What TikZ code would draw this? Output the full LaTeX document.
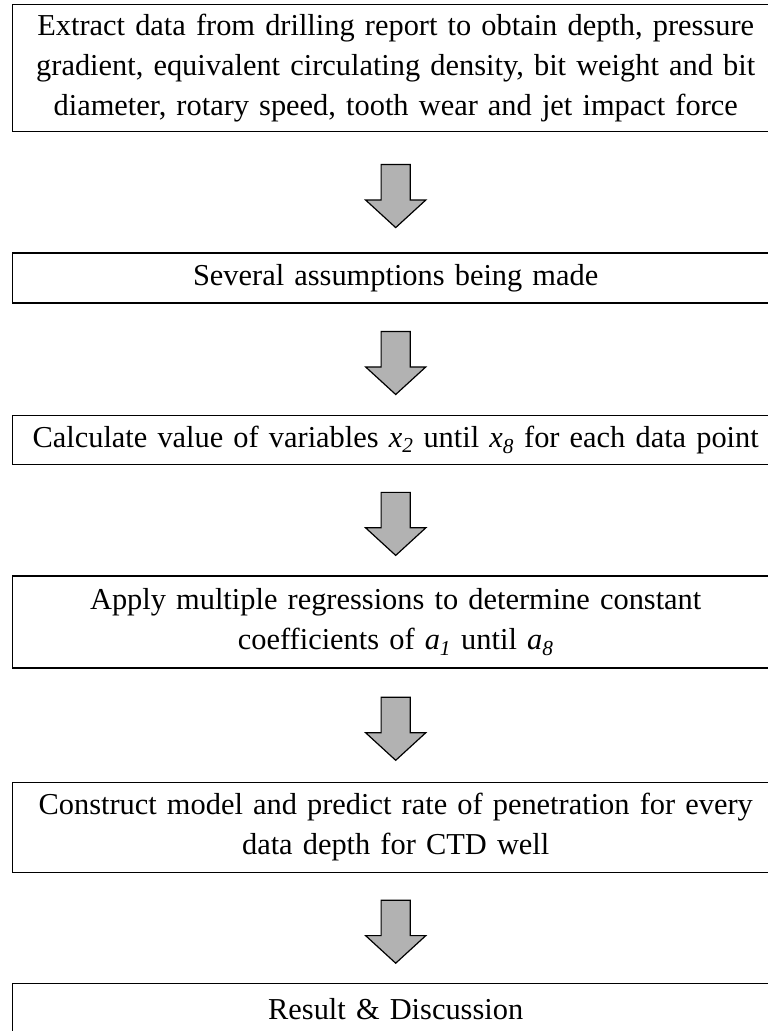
\documentclass[tikz,border=0pt]{standalone}
\usepackage{fontspec}
\setmainfont{Liberation Serif}
\usetikzlibrary{shapes.arrows,
                positioning,
                calc}
\tikzset{stage/.style =
   {rectangle,
    draw,
    line width=1.4pt,
    text width=746pt,
    align=center,
    inner xsep=10pt,
    inner ysep=2pt,
    font=\fontsize{30.4}{40}\selectfont}}
\tikzset{down-arrow/.style =
   {single arrow,
    draw,
    fill=gray!60,
    line width=1.2pt,
    rotate=-90,
    minimum height=63pt,
    inner xsep=0pt,
    inner ysep=14pt,
    single arrow head extend=15.5pt,
    single arrow tip angle=95}}

\begin{document}
\begin{tikzpicture}

    \useasboundingbox (0,0) rectangle (768pt,-1031pt);

    \node [stage,
           minimum height=127pt,
           anchor=north west] (extract) at (12pt,-4pt)
          {Extract data from drilling report to obtain depth, pressure\\
           gradient, equivalent circulating density, bit weight and bit\\
           diameter, rotary speed, tooth wear and jet impact force};

    \node [stage,
           minimum height=50pt,
           below = 120pt of extract] (assume)
          {Several assumptions being made};

    \node [stage,
           minimum height=49pt,
           below = 111pt of assume] (calcvar)
          {Calculate value of variables \textit{x\textsubscript{2}} until
           \textit{x\textsubscript{8}} for each data point};

    \node [stage,
           minimum height=92pt,
           below = 110pt of calcvar] (regress)
          {Apply multiple regressions to determine constant\\
           coefficients of \textit{a\textsubscript{1}} until
           \textit{a\textsubscript{8}}};

    \node [stage,
           minimum height=90pt,
           below = 113pt of regress] (model)
          {Construct model and predict rate of penetration for every\\
           data depth for CTD well};

    \node [stage,
           minimum height=50pt,
           below = 110pt of model] (result)
          {Result \& Discussion};

    % block arrows between the stages
    \foreach \from/\to [count=\i] in {extract/assume,
                                      assume/calcvar,
                                      calcvar/regress,
                                      regress/model,
                                      model/result}
        \node [down-arrow, xshift=-3pt] (arr\i)
              at ($(\from.south)!0.5!(\to.north)$) {};

\end{tikzpicture}
\end{document}
